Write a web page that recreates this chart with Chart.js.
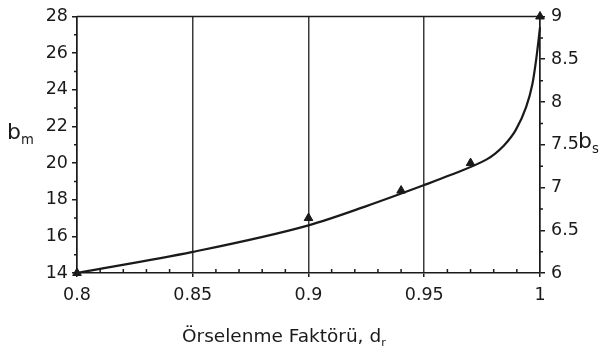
<!DOCTYPE html>
<html>
<head>
<meta charset="utf-8">
<script src="https://cdn.jsdelivr.net/npm/chart.js@4/dist/chart.umd.min.js"></script>
<style>
  html, body { margin: 0; padding: 0; background: #fff; }
  #wrap { position: relative; width: 605px; height: 355px; font-family: "DejaVu Sans", sans-serif; color: #1a1a1a; }
  canvas { position: absolute; left: 0; top: 0; }
  .lbl { position: absolute; white-space: nowrap; line-height: 1; }
  .lbl sub { font-size: 0.6em; vertical-align: -0.35em; }
</style>
</head>
<body>
<div id="wrap">
  <canvas id="chart" width="605" height="355"></canvas>
  <span class="lbl" id="ybm" style="left:7px; top:121px; font-size:22px;">b<sub>m</sub></span>
  <span class="lbl" id="ybs" style="left:578px; top:130px; font-size:22px;">b<sub>s</sub></span>
  <span class="lbl" id="xtitle" style="left:182px; top:327px; font-size:18.5px;">Örselenme Faktörü, d<sub>r</sub></span>
</div>
<script>
// === Data ===
const xTicks = [0.8, 0.85, 0.9, 0.95, 1];
const bmTicks = [14, 16, 18, 20, 22, 24, 26, 28];
const bsTicks = [6, 6.5, 7, 7.5, 8, 8.5, 9];

// fitted curve, read along d_r (denser near 1 where it turns steep)
const curveX = [0.8, 0.85, 0.9, 0.925, 0.95, 0.961, 0.977, 0.9805, 0.984, 0.9895, 0.994, 0.9967, 0.9984, 1];
const curveBm = [14, 15.15, 16.6, 17.65, 18.8, 19.33, 20.2, 20.5, 20.9, 21.8, 23.05, 24.3, 25.7, 27.4];

// measured points (triangles)
const markX = [0.8, 0.9, 0.94, 0.97, 1];
const markBm = [14, 17.0, 18.5, 20.0, 28];

const ink = '#1a1a1a';
const tickFont = { family: 'DejaVu Sans', size: 17.5 };

// === Minor ticks + top frame ===
const minorTicks = {
  id: 'minorTicks',
  afterDraw(chart) {
    const { ctx, chartArea: a, scales } = chart;
    const x = scales.x, y = scales.y, y2 = scales.y2;
    ctx.save();
    ctx.strokeStyle = ink;
    ctx.lineWidth = 1.5;
    ctx.beginPath();
    // top frame line
    ctx.moveTo(a.left, a.top);
    ctx.lineTo(a.right, a.top);
    // x minor ticks every 0.01, pointing up
    for (let i = 1; i < 20; i++) {
      if (i % 5 === 0) continue;
      const px = x.getPixelForValue(0.8 + i * 0.01);
      ctx.moveTo(px, a.bottom);
      ctx.lineTo(px, a.bottom - 4);
    }
    // left minor ticks at odd values
    for (let v = 15; v < 28; v += 2) {
      const py = y.getPixelForValue(v);
      ctx.moveTo(a.left, py);
      ctx.lineTo(a.left - 3, py);
    }
    // right minor ticks every 0.25
    for (let v = 6.25; v < 9; v += 0.5) {
      const py = y2.getPixelForValue(v);
      ctx.moveTo(a.right, py);
      ctx.lineTo(a.right + 3, py);
    }
    ctx.stroke();
    ctx.restore();
  }
};

const ctx = document.getElementById('chart').getContext('2d');
new Chart(ctx, {
  type: 'scatter',
  data: {
    datasets: [
      {
        type: 'line',
        data: curveX.map((v, i) => ({ x: v, y: curveBm[i] })),
        borderColor: ink,
        borderWidth: 2.2,
        pointRadius: 0,
        cubicInterpolationMode: 'monotone',
        yAxisID: 'y'
      },
      {
        data: markX.map((v, i) => ({ x: v, y: markBm[i] })),
        pointStyle: 'triangle',
        pointRadius: 5,
        backgroundColor: ink,
        borderColor: ink,
        borderWidth: 1,
        showLine: false,
        yAxisID: 'y'
      }
    ]
  },
  options: {
    responsive: false,
    animation: false,
    clip: false,
    layout: { padding: { top: 15, bottom: 0, left: 0, right: 0 } },
    plugins: { legend: { display: false }, tooltip: { enabled: false } },
    scales: {
      x: {
        type: 'linear',
        min: 0.8,
        max: 1,
        afterBuildTicks: s => { s.ticks = xTicks.map(v => ({ value: v })); },
        afterFit: s => { s.height = 82; },
        ticks: {
          color: ink,
          font: tickFont,
          padding: 8,
          maxRotation: 0,
          callback: v => String(+v.toFixed(2))
        },
        grid: { color: '#3a3a3a', lineWidth: 1.5, tickLength: 4, tickColor: ink },
        border: { color: ink, width: 1.5 }
      },
      y: {
        position: 'left',
        min: 14,
        max: 28,
        afterBuildTicks: s => { s.ticks = bmTicks.map(v => ({ value: v })); },
        afterFit: s => { s.width = 77; },
        ticks: { color: ink, font: tickFont, padding: 4, callback: v => String(v) },
        grid: { drawOnChartArea: false, tickLength: 5, tickColor: ink, lineWidth: 1.5 },
        border: { color: ink, width: 1.5 }
      },
      y2: {
        position: 'right',
        min: 6,
        max: 9,
        afterBuildTicks: s => { s.ticks = bsTicks.map(v => ({ value: v })); },
        afterFit: s => { s.width = 65; },
        ticks: { color: ink, font: tickFont, padding: 6, callback: v => String(v) },
        grid: { drawOnChartArea: false, tickLength: 5, tickColor: ink, lineWidth: 1.5 },
        border: { color: ink, width: 1.5 }
      }
    }
  },
  plugins: [minorTicks]
});
</script>
</body>
</html>
